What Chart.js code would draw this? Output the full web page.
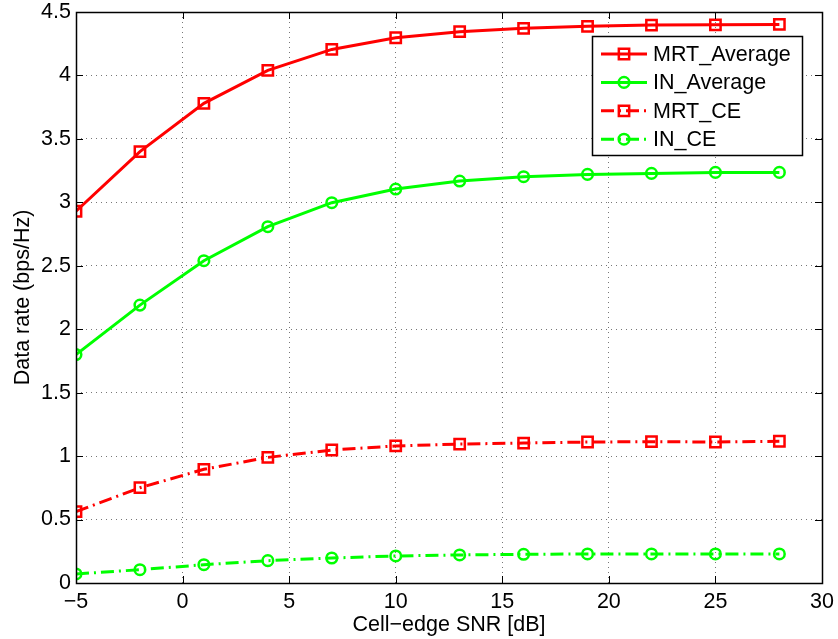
<!DOCTYPE html>
<html>
<head>
<meta charset="utf-8">
<script src="https://cdn.jsdelivr.net/npm/chart.js@4.4.0/dist/chart.umd.min.js"></script>
<style>
  html, body { margin: 0; padding: 0; background: #fff; }
  #wrap { width: 838px; height: 639px; }
</style>
</head>
<body>
<div id="wrap"><canvas id="rate-chart" width="838" height="639"></canvas></div>
<script>
// values
const snrDb = [-5, -2, 1, 4, 7, 10, 13, 16, 19, 22, 25, 28];
const mrtAverage = [2.93, 3.40, 3.78, 4.04, 4.205, 4.297, 4.345, 4.371, 4.387, 4.397, 4.399, 4.402];
const inAverage = [1.80, 2.19, 2.54, 2.808, 2.997, 3.105, 3.168, 3.202, 3.22, 3.228, 3.236, 3.236];
const mrtCE = [0.562, 0.751, 0.896, 0.99, 1.048, 1.08, 1.095, 1.103, 1.111, 1.114, 1.111, 1.117];
const inCE = [0.071, 0.105, 0.144, 0.176, 0.197, 0.213, 0.221, 0.226, 0.229, 0.229, 0.229, 0.229];
const xTicks = [-5, 0, 5, 10, 15, 20, 25, 30];
const yTicks = [0, 0.5, 1, 1.5, 2, 2.5, 3, 3.5, 4, 4.5];

const FONT = "'Liberation Sans', Arial, Helvetica, sans-serif";
const FSIZE = 21.5;
const RED = '#ff0000';
const GREEN = '#00ff00';
const DASHDOT = [13, 5, 2, 5];

function toPoints(ys) {
    return snrDb.map((x, i) => ({ x: x, y: ys[i] }));
}

function fmt(v) {
    return v < 0 ? '\u2212' + Math.abs(v) : String(v);
}

function makeSet(label, ys, color, style, dash) {
    return {
        label: label,
        data: toPoints(ys),
        borderColor: color,
        backgroundColor: color,
        borderWidth: 3,
        borderDash: dash,
        pointStyle: style,
        pointRadius: style === 'rect' ? 7.3 : 5.3,
        pointBorderWidth: 2.5,
        pointBorderColor: color,
        pointBackgroundColor: 'rgba(0,0,0,0)',
        tension: 0
    };
}

// box, inner tick marks and legend, MATLAB style
const matlabFrame = {
    id: 'matlabFrame',
    afterDraw(chart) {
        const ctx = chart.ctx;
        const a = chart.chartArea;
        const xs = chart.scales.x, ys = chart.scales.y;
        ctx.save();
        ctx.strokeStyle = '#000';
        ctx.lineWidth = 1;
        ctx.setLineDash([]);
        ctx.beginPath();
        xTicks.forEach(v => {
            const px = Math.round(xs.getPixelForValue(v)) + 0.5;
            ctx.moveTo(px, a.bottom); ctx.lineTo(px, a.bottom - 7);
            ctx.moveTo(px, a.top); ctx.lineTo(px, a.top + 7);
        });
        yTicks.forEach(v => {
            const py = Math.round(ys.getPixelForValue(v)) + 0.5;
            ctx.moveTo(a.left, py); ctx.lineTo(a.left + 7, py);
            ctx.moveTo(a.right, py); ctx.lineTo(a.right - 7, py);
        });
        ctx.stroke();
        ctx.lineWidth = 1.5;
        ctx.strokeRect(Math.round(a.left) + 0.5, Math.round(a.top) + 0.5,
            Math.round(a.right - a.left), Math.round(a.bottom - a.top));

        // legend
        const bw = 210, bh = 119;
        const bx = a.right - 230, by = a.top + 24;
        ctx.fillStyle = '#fff';
        ctx.fillRect(bx, by, bw, bh);
        ctx.lineWidth = 1.5;
        ctx.strokeStyle = '#000';
        ctx.strokeRect(bx + 0.5, by + 0.5, bw, bh);
        chart.data.datasets.forEach((ds, i) => {
            const y = by + 18 + i * 28.4;
            const x0 = bx + 9, x1 = bx + 55, xm = bx + 32;
            ctx.strokeStyle = ds.borderColor;
            ctx.lineWidth = ds.borderWidth;
            ctx.setLineDash(ds.borderDash || []);
            ctx.beginPath();
            ctx.moveTo(x0, y); ctx.lineTo(x1, y);
            ctx.stroke();
            ctx.setLineDash([]);
            ctx.lineWidth = ds.pointBorderWidth;
            ctx.beginPath();
            if (ds.pointStyle === 'rect') {
                const s = ds.pointRadius * Math.SQRT1_2;
                ctx.rect(xm - s, y - s, 2 * s, 2 * s);
            } else {
                ctx.arc(xm, y, ds.pointRadius, 0, Math.PI * 2);
            }
            ctx.stroke();
            ctx.fillStyle = '#000';
            ctx.font = FSIZE + 'px ' + FONT;
            ctx.textBaseline = 'middle';
            ctx.textAlign = 'left';
            ctx.fillText(ds.label, bx + 61, y + 1);
        });
        ctx.restore();
    }
};

new Chart(document.getElementById('rate-chart'), {
    type: 'line',
    data: {
        datasets: [
            makeSet('MRT_Average', mrtAverage, RED, 'rect', []),
            makeSet('IN_Average', inAverage, GREEN, 'circle', []),
            makeSet('MRT_CE', mrtCE, RED, 'rect', DASHDOT),
            makeSet('IN_CE', inCE, GREEN, 'circle', DASHDOT)
        ]
    },
    options: {
        responsive: false,
        animation: false,
        devicePixelRatio: 1,
        layout: { padding: { top: 12, right: 16, left: 0, bottom: 0 } },
        plugins: { legend: { display: false }, tooltip: { enabled: false } },
        scales: {
            x: {
                type: 'linear',
                min: -5,
                max: 30,
                afterBuildTicks: s => { s.ticks = xTicks.map(v => ({ value: v })); },
                afterFit: s => { s.height = 56; s.paddingLeft = 0; s.paddingRight = 0; },
                grid: { color: '#777', lineWidth: 1, drawTicks: false },
                border: { display: false, dash: [1, 4] },
                ticks: {
                    padding: 6,
                    color: '#000',
                    font: { family: FONT, size: FSIZE },
                    callback: v => fmt(v)
                },
                title: {
                    display: true,
                    text: 'Cell\u2212edge SNR [dB]',
                    color: '#000',
                    font: { family: FONT, size: FSIZE },
                    padding: { top: 0, bottom: 1 }
                }
            },
            y: {
                type: 'linear',
                min: 0,
                max: 4.5,
                afterBuildTicks: s => { s.ticks = yTicks.map(v => ({ value: v })); },
                afterFit: s => { s.width = 76; s.paddingTop = 0; s.paddingBottom = 0; },
                grid: { color: '#777', lineWidth: 1, drawTicks: false },
                border: { display: false, dash: [1, 4] },
                ticks: {
                    padding: 5,
                    color: '#000',
                    font: { family: FONT, size: FSIZE },
                    callback: v => fmt(v)
                },
                title: {
                    display: true,
                    text: 'Data rate (bps/Hz)',
                    color: '#000',
                    font: { family: FONT, size: FSIZE },
                    padding: { top: 10, bottom: 0 }
                }
            }
        }
    },
    plugins: [matlabFrame]
});
</script>
</body>
</html>
